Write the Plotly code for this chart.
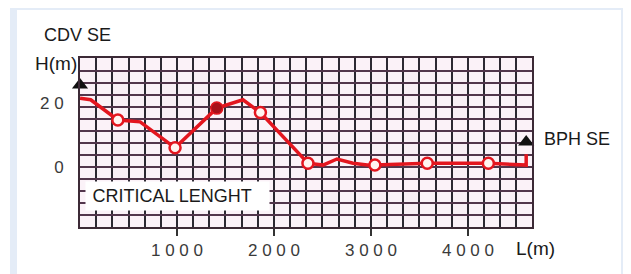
import plotly.graph_objects as go

# ---- data ----
station_m = [0, 110, 390, 620, 980, 1410, 1680, 1860, 2350, 2505, 2650, 2815, 2960, 3040, 3580, 4210, 4600, 4600]
height_m = [21.5, 21.0, 14.7, 14.1, 6.0, 18.4, 21.0, 17.0, 1.2, 0.6, 2.5, 1.2, 0.6, 0.6, 1.2, 1.2, 0.6, 4.0]

open_station = [390, 980, 1860, 2350, 3040, 3580, 4210]
open_height = [14.7, 6.0, 17.0, 1.2, 0.6, 1.2, 1.2]

solid_station = [1410]
solid_height = [18.4]

end_station = [0, 4600]
end_height = [25.6, 7.8]
end_names = ["CDV SE", "BPH SE"]

x_tick_vals = [1000, 2000, 3000, 4000]
x_tick_labels = ["1000", "2000", "3000", "4000"]
y_tick_vals = [0, 20]
y_tick_labels = ["0", "20"]

X_RANGE = [0, 4660]
Y_RANGE = [-18.75, 34.06]

# the page body adds an 8 px offset; compensate so the window matches 631x274
OFF = 8
WIN_W, WIN_H = 631, 274
W, H = WIN_W - OFF, WIN_H - OFF
ML, MT = 80 - OFF, 58 - OFF
MR, MB = WIN_W - 532, WIN_H - 227
PW, PH = W - ML - MR, H - MT - MB


def px(x):
    return (x - OFF - ML) / PW


def py(y):
    return (H - MB - (y - OFF)) / PH


RED = "#e3161f"
FONT = "Liberation Sans, Arial, sans-serif"

fig = go.Figure()

fig.add_trace(go.Scatter(
    x=station_m, y=height_m, mode="lines",
    line=dict(color=RED, width=3.5), hoverinfo="skip", showlegend=False))

fig.add_trace(go.Scatter(
    x=open_station, y=open_height, mode="markers",
    marker=dict(symbol="circle", size=11, color="#fff4f0",
                line=dict(color=RED, width=2.5)),
    showlegend=False))

fig.add_trace(go.Scatter(
    x=solid_station, y=solid_height, mode="markers",
    marker=dict(symbol="circle", size=12, color="#a8101a",
                line=dict(color=RED, width=1.5)),
    showlegend=False))

fig.add_trace(go.Scatter(
    x=end_station, y=end_height, mode="markers", yaxis="y2",
    marker=dict(symbol="triangle-up", size=14, color="#111111"),
    cliponaxis=False, showlegend=False))

GRID_V = "#2c2932"
GRID_H = "#52364c"
BORDER = "#3c2a36"
TICKFONT = dict(size=17, color="#3a3a3a", family="Liberation Sans, Arial, sans-serif")

fig.update_layout(
    width=W, height=H,
    margin=dict(l=ML, r=MR, t=MT, b=MB, pad=0),
    paper_bgcolor="white",
    plot_bgcolor="#fbf2f8",
    font=dict(family=FONT, color="#1a1a1a"),
    xaxis=dict(
        range=X_RANGE, tickvals=x_tick_vals,
        ticktext=[" ".join(t) for t in x_tick_labels],
        tickfont=TICKFONT,
        ticks="outside", ticklen=7, tickwidth=1.5, tickcolor="#333",
        showgrid=True, gridcolor=GRID_V, gridwidth=2,
        minor=dict(dtick=1000 / 6, tick0=0, showgrid=True, gridcolor=GRID_V, gridwidth=2),
        showline=True, linecolor=BORDER, linewidth=2, mirror=True,
        zeroline=False, fixedrange=True),
    yaxis=dict(
        range=Y_RANGE, dtick=3.75, tick0=0, showticklabels=False,
        showgrid=True, gridcolor=GRID_H, gridwidth=2,
        showline=True, linecolor=BORDER, linewidth=2, mirror=True,
        zeroline=False, fixedrange=True),
    yaxis2=dict(
        range=Y_RANGE, overlaying="y", side="left",
        tickvals=y_tick_vals, ticktext=[" ".join(t) for t in y_tick_labels],
        tickfont=TICKFONT,
        ticks="outside", ticklen=12, tickcolor="rgba(0,0,0,0)",
        showgrid=False, zeroline=False, showline=False, fixedrange=True),
)

# light frame around the panel
fig.add_shape(type="rect", xref="paper", yref="paper",
              x0=px(13.5), x1=px(624.5), y0=py(300), y1=py(6.5),
              line=dict(color="#e4ecf7", width=7), fillcolor="rgba(0,0,0,0)",
              layer="below")

ann = [
    dict(text=end_names[0], x=px(77), y=py(35), xanchor="center", yanchor="middle",
         font=dict(size=18)),
    dict(text=end_names[1], x=px(542), y=py(139), xanchor="left", yanchor="middle",
         font=dict(size=18)),
    dict(text="H(m)", x=px(79), y=py(64), xanchor="right", yanchor="middle",
         font=dict(size=19)),
    dict(text="L(m)", x=px(535), y=py(248), xanchor="center", yanchor="middle",
         font=dict(size=19)),
    dict(text="CRITICAL LENGHT", x=px(85), y=py(195.5), xanchor="left", yanchor="middle",
         width=170, height=15, align="left", bgcolor="white", borderpad=6.5,
         font=dict(size=18)),
]
for a in ann:
    a.update(xref="paper", yref="paper", showarrow=False)
    fig.add_annotation(**a)

fig.write_html("out.html")
